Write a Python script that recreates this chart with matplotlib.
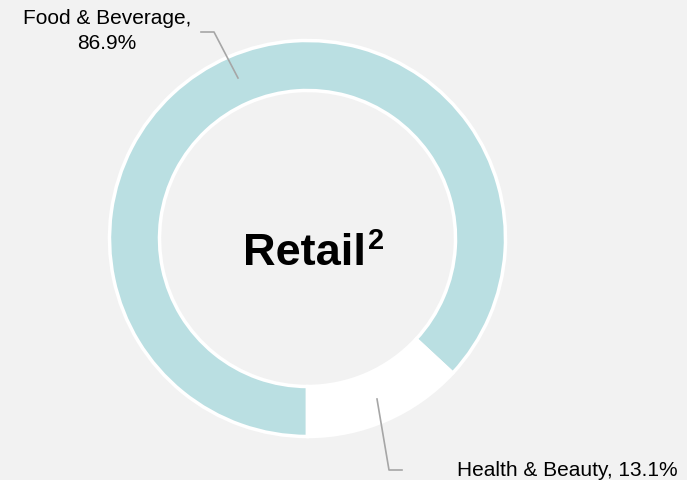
import matplotlib.pyplot as plt

plt.rcParams['font.family'] = ['Liberation Sans', 'DejaVu Sans']

# retail split
labels = ['Food & Beverage', 'Health & Beauty']
shares = [86.9, 13.1]
colors = ['#badfe2', '#ffffff']
bg = '#f2f2f2'

fig = plt.figure(figsize=(6.87, 4.8), dpi=100, facecolor=bg)
ax = fig.add_axes([0, 0, 1, 1])
ax.set_facecolor(bg)

cx, cy, r = 307.5, 241.5, 198
ax.pie(shares, colors=colors, startangle=-90, counterclock=False,
       center=(cx, cy), radius=r, frame=True,
       wedgeprops=dict(width=50, edgecolor='white', linewidth=2.5))
ax.set_xlim(0, 687)
ax.set_ylim(0, 480)
ax.set_aspect('equal')
ax.axis('off')

# centre title
ax.text(305, 215, 'Retail', ha='center', va='baseline', fontsize=32.5,
        fontweight='bold', color='black')
ax.text(368, 231, '2', ha='left', va='baseline', fontsize=21,
        fontweight='bold', color='black')

# leader lines and labels
line_kw = dict(color='#a6a6a6', linewidth=1.2)
ax.plot([238, 214, 201], [480 - 78, 480 - 32, 480 - 32], **line_kw)
ax.text(107, 480 - 31, f'{labels[0]},\n{shares[0]}%', ha='center',
        va='center', fontsize=15, linespacing=1.35)

ax.plot([377, 389, 402], [480 - 399, 480 - 470, 480 - 470], **line_kw)
ax.text(457, 480 - 470, f'{labels[1]}, {shares[1]}%', ha='left',
        va='center', fontsize=15)

fig.savefig('out.png', dpi=100, facecolor=bg)
